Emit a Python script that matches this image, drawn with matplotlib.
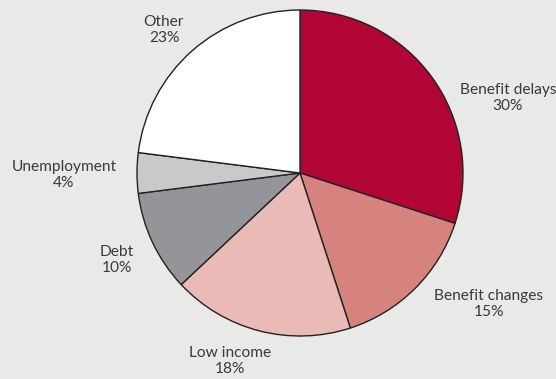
import matplotlib.pyplot as plt

categories = ["Benefit delays", "Benefit changes", "Low income", "Debt", "Unemployment", "Other"]
shares = [30, 15, 18, 10, 4, 23]
colors = ["#b10535", "#d6837f", "#e9bab6", "#949598", "#c8c9cb", "#ffffff"]

# label centres in pixels (x from left, y from top)
label_pos = [(508, 98), (489, 304), (230, 361), (117, 260), (64, 175), (164, 30)]

W, H = 556, 379
BG = "#e9eae8"

fig = plt.figure(figsize=(W / 100, H / 100), dpi=100, facecolor=BG)
ax = fig.add_axes([0, 0, 1, 1])
ax.set_facecolor(BG)

ax.pie(shares, colors=colors, startangle=90, counterclock=False,
       center=(300, H - 173), radius=163, frame=True,
       wedgeprops=dict(edgecolor="#222222", linewidth=1.0))
ax.set_xlim(0, W)
ax.set_ylim(0, H)
ax.set_aspect("equal")
ax.axis("off")

for name, val, (x, y) in zip(categories, shares, label_pos):
    ax.text(x, H - y, f"{name}\n{val}%", ha="center", va="center",
            fontsize=11.2, family="Lato", color="#3a3a3a", linespacing=1.1)

fig.savefig("out.png", dpi=100, facecolor=BG)
